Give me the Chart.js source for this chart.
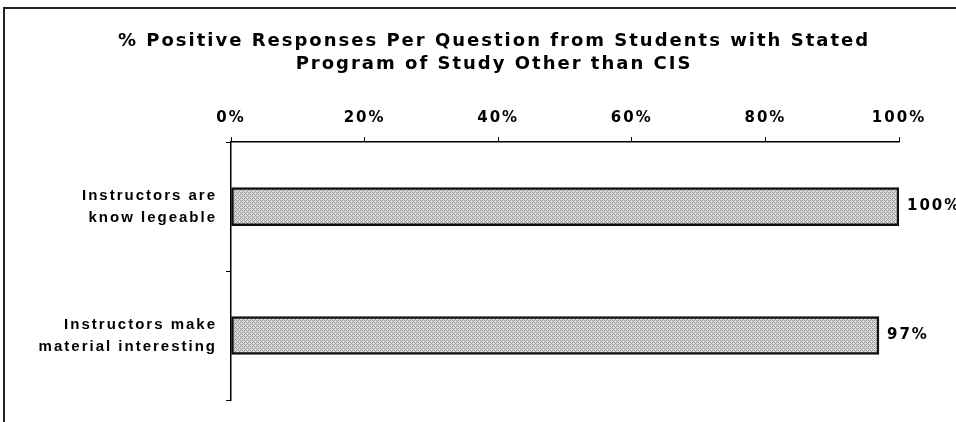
<!DOCTYPE html>
<html>
<head>
<meta charset="utf-8">
<script src="https://cdn.jsdelivr.net/npm/chart.js@4/dist/chart.umd.min.js"></script>
<style>
  html, body { margin: 0; padding: 0; background: #fff; }
  #wrap { position: relative; width: 956px; height: 422px; overflow: hidden; background: #fff; }
  #c { position: absolute; left: 0; top: 0; }
  #frame { position: absolute; left: 3px; top: 7px; width: 960px; height: 420px;
           border-top: 2px solid #222; border-left: 2px solid #222; pointer-events: none; }
</style>
</head>
<body>
<div id="wrap">
  <canvas id="c" width="956" height="422"></canvas>
  <div id="frame"></div>
</div>
<script>
// ---- data ----
const titleLines = ['% Positive Responses Per Question from Students with Stated', 'Program of Study Other than CIS'];
const categories = [['Instructors are', 'know legeable'], ['Instructors make', 'material interesting']];
const values = [100, 97];
const tickValues = [0, 20, 40, 60, 80, 100];

// ---- bar fill pattern (ordered-dither halftone grey) ----
function makePattern(ctx) {
  const bayer = [
    [0, 8, 2, 10],
    [12, 4, 14, 6],
    [3, 11, 1, 9],
    [15, 7, 13, 5]
  ];
  const p = document.createElement('canvas');
  p.width = 4; p.height = 4;
  const pc = p.getContext('2d');
  for (let y = 0; y < 4; y++) {
    for (let x = 0; x < 4; x++) {
      pc.fillStyle = bayer[y][x] < 6 ? '#9a9a9a' : '#dcdcdc';
      pc.fillRect(x, y, 1, 1);
    }
  }
  return ctx.createPattern(p, 'repeat');
}

const canvas = document.getElementById('c');
const ctx = canvas.getContext('2d');
const pattern = makePattern(ctx);

const spacingPlugin = {
  id: 'spacing',
  beforeLayout(chart) { chart.ctx.letterSpacing = '2px'; },
  afterLayout(chart) {
    const ys = chart.scales.y;
    ys._computeLabelArea = function () {
      return { top: 0, left: 0, bottom: this.chart.height, right: this.right };
    };
  },
  beforeDraw(chart) { chart.ctx.letterSpacing = '2px'; }
};

const valueLabels = {
  id: 'valueLabels',
  afterDatasetsDraw(chart) {
    const c = chart.ctx;
    const meta = chart.getDatasetMeta(0);
    c.save();
    c.letterSpacing = '2px';
    c.font = 'bold 15px "DejaVu Sans"';
    c.fillStyle = '#000';
    c.textAlign = 'left';
    c.textBaseline = 'middle';
    meta.data.forEach((bar, i) => {
      c.fillText(values[i] + '%', bar.x + 8, bar.y);
    });
    c.restore();
  }
};

new Chart(ctx, {
  type: 'bar',
  data: {
    labels: categories,
    datasets: [{
      data: values,
      backgroundColor: pattern,
      borderColor: '#111',
      borderWidth: 2.5,
      borderSkipped: false,
      barThickness: 38
    }]
  },
  options: {
    indexAxis: 'y',
    responsive: false,
    animation: false,
    devicePixelRatio: 1,
    layout: { padding: { left: 89, right: 57, top: 0, bottom: 22 } },
    plugins: {
      legend: { display: false },
      tooltip: { enabled: false },
      title: {
        display: true,
        text: titleLines,
        color: '#000',
        font: { family: '"DejaVu Sans"', size: 18, weight: 'bold', lineHeight: 1.28 },
        padding: { top: 29.5, bottom: 10 }
      }
    },
    scales: {
      x: {
        position: 'top',
        min: 0,
        max: 100,
        afterFit(scale) { scale.height = 56.5; },
        afterBuildTicks(scale) { scale.ticks = tickValues.map(v => ({ value: v })); },
        ticks: {
          callback: v => v + '%',
          color: '#000',
          padding: 10,
          maxRotation: 0,
          font: { family: '"DejaVu Sans"', size: 15, weight: 'bold' }
        },
        grid: { drawOnChartArea: false, drawTicks: true, tickLength: 5, color: '#000', lineWidth: 1 },
        border: { display: true, color: '#000', width: 1.5 }
      },
      y: {
        afterFit(scale) {
          scale.width = 142;
          scale.paddingTop = 0;
          scale.paddingBottom = 0;
        },
        ticks: {
          color: '#000',
          padding: 9,
          font: { family: '"Liberation Sans", Arial, sans-serif', size: 15, weight: 'bold', lineHeight: 1.47 }
        },
        grid: { offset: true, drawOnChartArea: false, drawTicks: true, tickLength: 5, color: '#000', lineWidth: 1 },
        border: { display: true, color: '#000', width: 1.5 }
      }
    }
  },
  plugins: [spacingPlugin, valueLabels]
});
</script>
</body>
</html>
